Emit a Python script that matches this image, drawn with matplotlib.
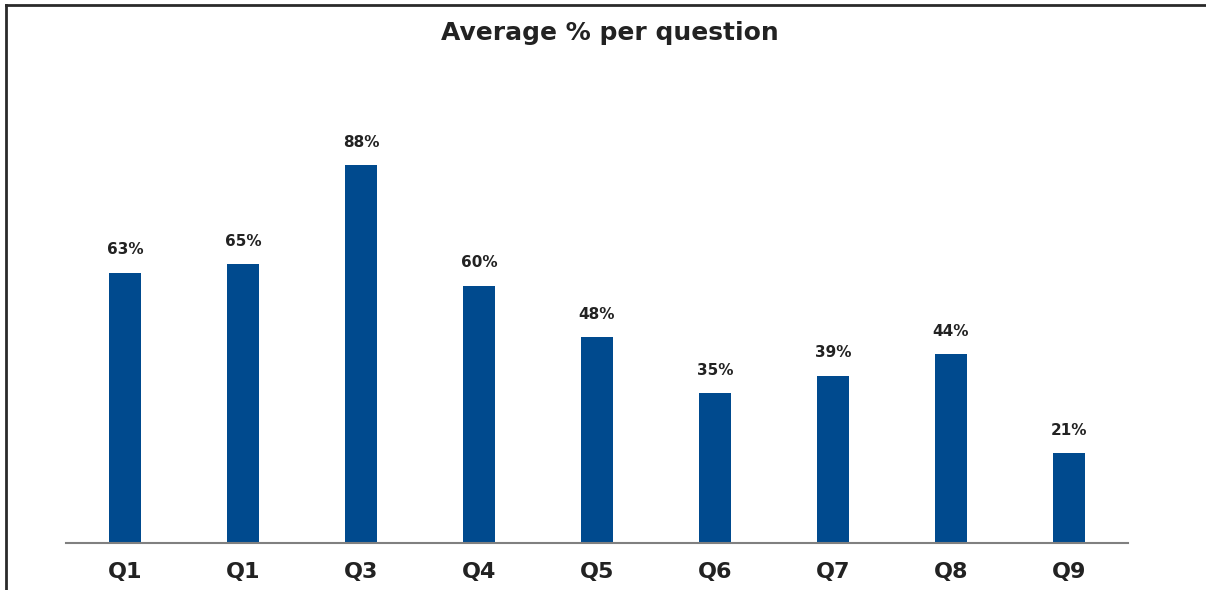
import matplotlib
matplotlib.use("Agg")
import matplotlib.pyplot as plt
from matplotlib.lines import Line2D

questions = ["Q1", "Q1", "Q3", "Q4", "Q5", "Q6", "Q7", "Q8", "Q9"]
averages = [63, 65, 88, 60, 48, 35, 39, 44, 21]

BAR_COLOR = "#004A8E"
TEXT_COLOR = "#222222"
plt.rcParams["font.family"] = ["DejaVu Sans"]

W, H = 1206, 590
fig = plt.figure(figsize=(W / 100, H / 100), dpi=100)
ax = fig.add_axes([66 / W, 1 - 543 / H, (1128 - 66) / W, (543 - 114) / H])

x = range(len(questions))
bars = ax.bar(x, averages, width=0.27, color=BAR_COLOR, zorder=2)
for rect, v in zip(bars, averages):
    ax.annotate(f"{v}%", (rect.get_x() + rect.get_width() / 2, rect.get_height()),
                xytext=(0, 11), textcoords="offset points", ha="center", va="bottom",
                fontsize=11, fontweight="bold", color=TEXT_COLOR)

ax.set_xlim(-0.5, len(questions) - 0.5)
ax.set_ylim(0, 100)
ax.set_xticks(list(x))
ax.set_xticklabels(questions, fontsize=16, fontweight="bold", color=TEXT_COLOR)
ax.tick_params(axis="x", length=0, pad=14)
ax.set_yticks([])
for side in ("top", "right", "left"):
    ax.spines[side].set_visible(False)
ax.spines["bottom"].set_color("#808080")
ax.spines["bottom"].set_linewidth(1.5)

fig.text(610 / W, 1 - 33 / H, "Average % per question", ha="center", va="center",
         fontsize=18, fontweight="bold", color=TEXT_COLOR)

# frame on the top and left edges
fig.add_artist(Line2D([6 / W, 1], [1 - 5 / H, 1 - 5 / H], color="#2a2a2a", lw=2.0))
fig.add_artist(Line2D([6 / W, 6 / W], [0, 1 - 5 / H], color="#2a2a2a", lw=2.0))

fig.savefig("out.png", dpi=100)
